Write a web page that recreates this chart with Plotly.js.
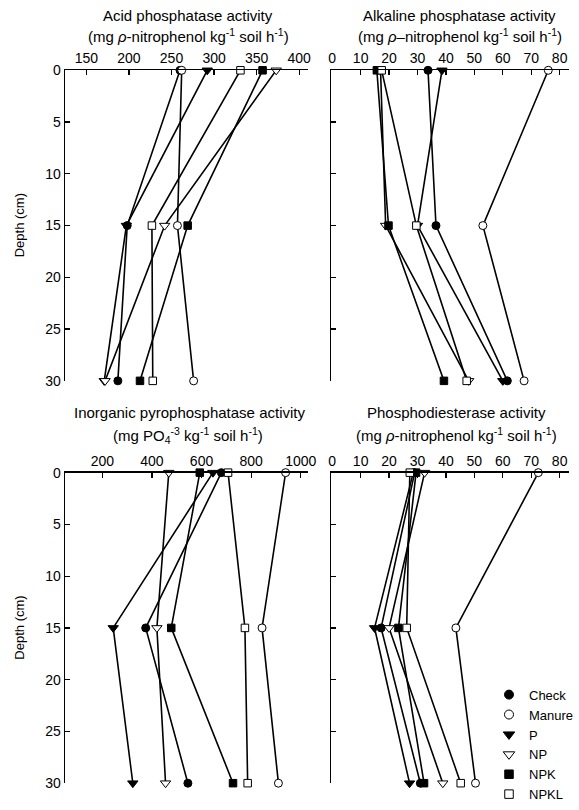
<!DOCTYPE html>
<html><head><meta charset="utf-8">
<script src="https://cdn.plot.ly/plotly-3.0.1.min.js"></script>
<style>html,body{margin:0;padding:0;background:#fff}#chart{width:579px;height:810px}</style>
</head><body><div id="chart"></div>
<script>
// ---- data ----
const depths = [0, 15, 30];
const treatments = ['Check', 'Manure', 'P', 'NP', 'NPK', 'NPKL'];

// Acid phosphatase activity
const acidCheck  = [260, 198, 187];
const acidManure = [262, 257, 276];
const acidP      = [292, 197, 171];
const acidNP     = [373, 242, 172];
const acidNPK    = [357, 269, 213];
const acidNPKL   = [331, 227, 228];

// Alkaline phosphatase activity
const alkCheck  = [33.7, 36.5, 61.6];
const alkManure = [76, 53, 67.5];
const alkP      = [38.6, 30, 60];
const alkNP     = [17, 18.8, 48];
const alkNPK    = [15.7, 19.8, 39.3];
const alkNPKL   = [17.4, 29.6, 47.3];

// Inorganic pyrophosphatase activity
const pyroCheck  = [680, 375, 545];
const pyroManure = [939, 844, 910];
const pyroP      = [646, 244, 323];
const pyroNP     = [468, 420, 455];
const pyroNPK    = [593, 478, 727];
const pyroNPKL   = [707, 775, 786];

// Phosphodiesterase activity
const pdeCheck  = [29, 17.2, 31];
const pdeManure = [72.5, 43.5, 50.4];
const pdeP      = [28.5, 14.9, 27.2];
const pdeNP     = [32.5, 20, 38.9];
const pdeNPK    = [29.5, 23.3, 32.3];
const pdeNPKL   = [27.3, 26.2, 45.2];

const acidTicks = [150, 200, 250, 300, 350, 400];
const alkTicks  = [0, 10, 20, 30, 40, 50, 60, 70, 80];
const pyroTicks = [200, 400, 600, 800, 1000];
const pdeTicks  = [0, 10, 20, 30, 40, 50, 60, 70, 80];
const depthTicks = [0, 5, 10, 15, 20, 25, 30];

// ---- styles ----
const symbols = ['circle', 'circle', 'triangle-down', 'triangle-down', 'square', 'square'];
const fills   = ['black', 'white', 'black', 'white', 'black', 'white'];
const sizes   = [8, 8, 9, 9, 7.5, 7.5];

const panels = [
  {xa: 'x',  ya: 'y',  series: [acidCheck, acidManure, acidP, acidNP, acidNPK, acidNPKL]},
  {xa: 'x2', ya: 'y2', series: [alkCheck, alkManure, alkP, alkNP, alkNPK, alkNPKL]},
  {xa: 'x3', ya: 'y3', series: [pyroCheck, pyroManure, pyroP, pyroNP, pyroNPK, pyroNPKL]},
  {xa: 'x4', ya: 'y4', series: [pdeCheck, pdeManure, pdeP, pdeNP, pdeNPK, pdeNPKL]}
];

const traces = [];
panels.forEach(p => {
  p.series.forEach((vals, i) => {
    traces.push({
      type: 'scatter', mode: 'lines+markers',
      x: vals, y: depths, xaxis: p.xa, yaxis: p.ya,
      name: treatments[i], showlegend: false, cliponaxis: false,
      line: {color: 'black', width: 1.6},
      marker: {symbol: symbols[i], size: sizes[i], color: fills[i], line: {color: 'black', width: 1}}
    });
  });
});
// legend entries (markers only)
treatments.forEach((t, i) => {
  traces.push({
    type: 'scatter', mode: 'markers', x: [null], y: [null], xaxis: 'x4', yaxis: 'y4',
    name: t, showlegend: true,
    marker: {symbol: symbols[i], size: sizes[i] + 1, color: fills[i], line: {color: 'black', width: 1}}
  });
});

const W = 579, H = 810;
const fx = px => px / W;
const fy = py => 1 - py / H;
const FONT = 'Liberation Sans, Arial, sans-serif';

function xax(domain, range, ticks, anchor) {
  return {
    domain: domain, range: range, tickvals: ticks, ticktext: ticks.map(String),
    side: 'top', anchor: anchor, showline: true, linecolor: 'black', linewidth: 1.5,
    ticks: 'inside', ticklen: 5, tickwidth: 1.2, tickcolor: 'black',
    showgrid: false, zeroline: false, fixedrange: true,
    tickfont: {family: FONT, size: 14, color: 'black'}
  };
}
function yax(domain, anchor, labels) {
  return {
    domain: domain, range: [30, 0], tickvals: depthTicks, ticktext: depthTicks.map(String),
    anchor: anchor, showline: true, linecolor: 'black', linewidth: 1.5,
    ticks: 'inside', ticklen: 5, tickwidth: 1.2, tickcolor: 'black',
    showgrid: false, zeroline: false, fixedrange: true, showticklabels: labels,
    tickfont: {family: FONT, size: 14, color: 'black'}
  };
}

const leftDom = [fx(66), fx(312)];
const rightDom = [fx(336), fx(577)];
const topDom = [fy(390), fy(72)];
const botDom = [fy(802), fy(484)];

function ann(text, xpx, ypx, size, extra) {
  return Object.assign({
    text: text, xref: 'paper', yref: 'paper', x: fx(xpx), y: fy(ypx),
    xanchor: 'center', yanchor: 'middle', showarrow: false,
    font: {family: FONT, size: size, color: 'black'}
  }, extra || {});
}

const layout = {
  width: W, height: H,
  margin: {l: 0, r: 0, t: 0, b: 0},
  paper_bgcolor: 'white', plot_bgcolor: 'white',
  font: {family: FONT, color: 'black'},
  xaxis: xax(leftDom, [125, 410], acidTicks, 'y'),
  yaxis: yax(topDom, 'x', true),
  xaxis2: xax(rightDom, [-0.3, 83.3], alkTicks, 'y2'),
  yaxis2: yax(topDom, 'x2', false),
  xaxis3: xax(leftDom, [50, 1028], pyroTicks, 'y3'),
  yaxis3: yax(botDom, 'x3', true),
  xaxis4: xax(rightDom, [-0.3, 83.3], pdeTicks, 'y4'),
  yaxis4: yax(botDom, 'x4', false),
  showlegend: true,
  legend: {
    x: fx(496), y: fy(696), xanchor: 'left', yanchor: 'top',
    bgcolor: 'rgba(0,0,0,0)', borderwidth: 0,
    font: {family: FONT, size: 13, color: 'black'},
    itemwidth: 30, tracegroupgap: 0
  },
  annotations: [
    ann('Acid phosphatase activity', 191, 16, 15),
    ann('(mg <i>ρ</i>-nitrophenol kg<sup>-1</sup> soil h<sup>-1</sup>)', 191, 36, 15),
    ann('Alkaline phosphatase activity', 466, 16, 15),
    ann('(mg <i>ρ</i>–nitrophenol kg<sup>-1</sup> soil h<sup>-1</sup>)', 466, 36, 15),
    ann('Inorganic pyrophosphatase activity', 192, 422, 15),
    ann('(mg PO<sub>4</sub><sup>-3</sup> kg<sup>-1</sup> soil h<sup>-1</sup>)', 191, 446, 15),
    ann('Phosphodiesterase activity', 463, 422, 15),
    ann('(mg <i>ρ</i>-nitrophenol kg<sup>-1</sup> soil h<sup>-1</sup>)', 463, 445, 15),
    ann('Depth (cm)', 20, 231, 13, {textangle: -90}),
    ann('Depth (cm)', 20, 643, 13, {textangle: -90})
  ]
};

Plotly.newPlot('chart', traces, layout, {displayModeBar: false, staticPlot: true});
</script>
</body></html>
